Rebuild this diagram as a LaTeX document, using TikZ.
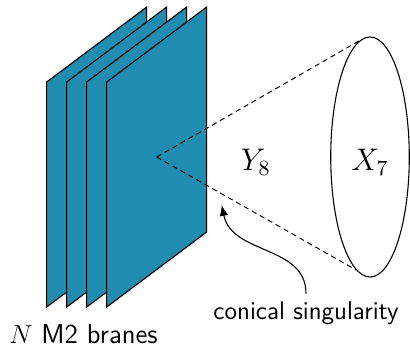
\documentclass[tikz,border=0pt]{standalone}
\usetikzlibrary{shapes.geometric,arrows.meta}
\definecolor{brane}{RGB}{32,141,176}
\begin{document}
\begin{tikzpicture}[x=0.4608pt,y=-0.4608pt,
  plane/.style={fill=brane,draw=black,line width=0.5pt,line join=miter},
  cone/.style={dashed,line width=0.45pt,dash pattern=on 2.4pt off 1.8pt},
  lbl/.style={inner sep=0pt,font=\Large},
  txt/.style={font=\fontsize{11.8}{14}\selectfont\sffamily}]
\useasboundingbox (0,0) rectangle (410,346);
\foreach \i in {0,1,2,3}{
  \pgfmathsetmacro\xo{46.7+20*\i}
  \draw[plane] (\xo,307) -- (\xo,82) -- (\xo+100,7) -- (\xo+100,232) -- cycle;
}
\coordinate (apex) at (156.7,157);
\node[draw,ellipse,minimum width=36.2pt,minimum height=110.6pt,inner sep=0pt,line width=0.5pt] (ell) at (370,157) {};
\draw[cone] (apex) -- (ell.95);
\draw[cone] (apex) -- (ell.263);
\node[lbl] (Y) at (255.8,162) {$Y_8$};
\node[lbl] (X) at (370,162) {$X_7$};
\node[txt,anchor=base] (sing) at (306,319) {conical singularity};
\node[txt,font=\fontsize{12.6}{15}\selectfont\sffamily,anchor=base,inner sep=0pt] (N) at (83.5,343) {$N$\ M2 branes};
\coordinate (tip) at (221.7,205);
\draw[line width=0.5pt,-{Latex[length=5pt,width=4pt]}] (sing.north) .. controls (306,245) and (232,255) .. (tip);
\end{tikzpicture}
\end{document}
